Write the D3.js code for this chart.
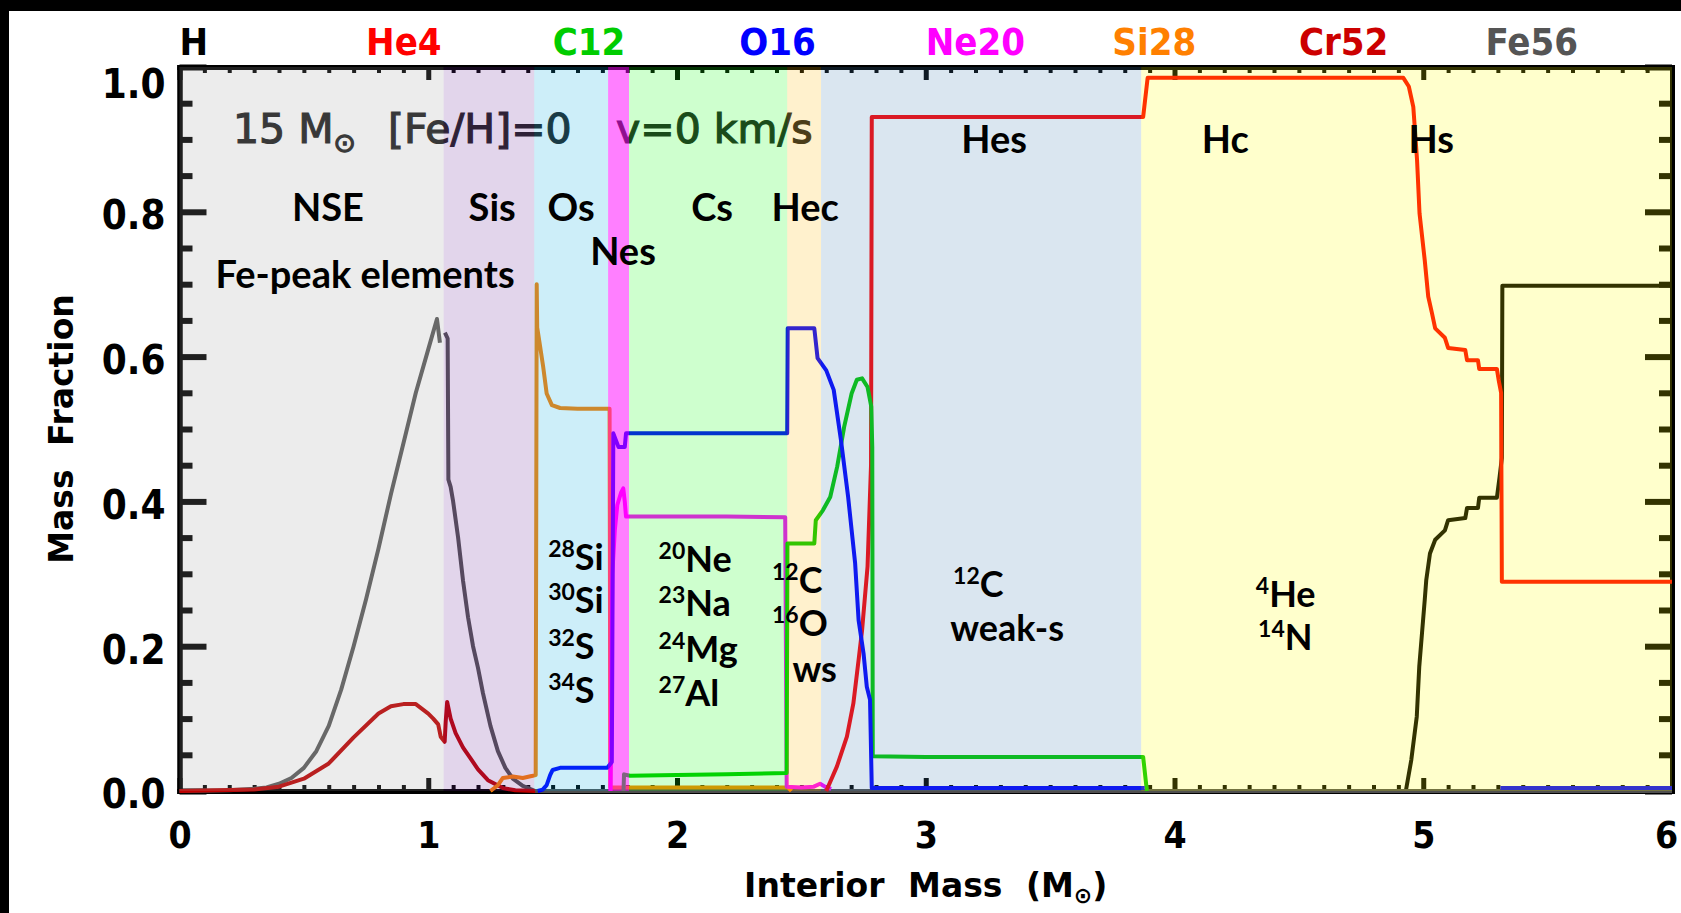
<!DOCTYPE html>
<html>
<head>
<meta charset="utf-8">
<script src="https://cdn.jsdelivr.net/npm/d3@7"></script>
<style>
  html, body { margin: 0; padding: 0; background: #000; }
  svg { display: block; }
  .axis text { font-family: "DejaVu Sans Condensed", "DejaVu Sans", sans-serif; font-weight: bold; fill: #000; }
  .zone_lbl { font-family: Lato, "Open Sans", sans-serif; font-weight: bold; fill: #000; }
</style>
</head>
<body>
<div id="draw_here"></div>
<script>
    // burning zones (interior mass in Msun), drawn as translucent overlays
    zone_names = ["NSE", "Sis", "Os", "Nes", "Cs", "Hec", "Hes", "Hc"]
    zone_edges = [0, 1.062, 1.426, 1.723, 1.807, 2.443, 2.579, 3.866, 6.0]
    zone_fill = ["#a0a0a0", "#6e2d9b", "#05aae1", "#ff00ff", "#0aff0a", "#ffb905", "#4682b4", "#ffff00"]
    zone_alpha = [0.2, 0.2, 0.2, 0.5, 0.2, 0.2, 0.2, 0.2]

    // species legend across the top
    species = ["H", "He4", "C12", "O16", "Ne20", "Si28", "Cr52", "Fe56"]
    species_col = ["#000000", "#ff0000", "#00cc00", "#0000ff", "#ff00ff", "#ff8000", "#cc0000", "#555555"]

    // mass fraction profiles
    H_m = [0, 3.89, 4.93, 4.952, 4.974, 4.984, 4.995, 5.006, 5.012, 5.027, 5.048, 5.087, 5.10, 5.169, 5.176, 5.22, 5.225, 5.296, 5.307, 5.316, 5.318, 6.0]
    H_v = [0, 0, 0, 0.043, 0.103, 0.172, 0.218, 0.264, 0.291, 0.328, 0.347, 0.36, 0.374, 0.377, 0.391, 0.391, 0.405, 0.405, 0.434, 0.46, 0.698, 0.698]

    fepeak_m = [0, 0.2, 0.3, 0.35, 0.4, 0.45, 0.5, 0.55, 0.6, 0.65, 0.7, 0.75, 0.8, 0.85, 0.9, 0.95, 1.0, 1.035, 1.047]
    fepeak_v = [0, 0.001, 0.003, 0.005, 0.01, 0.018, 0.032, 0.055, 0.09, 0.14, 0.2, 0.265, 0.335, 0.41, 0.48, 0.55, 0.61, 0.652, 0.619]

    fe56_m = [1.067, 1.078, 1.081, 1.09, 1.10, 1.12, 1.14, 1.16, 1.18, 1.2, 1.22, 1.25, 1.28, 1.31, 1.34, 1.38, 1.43, 2.0, 3.0, 4.0, 5.0, 6.0]
    fe56_v = [0.633, 0.625, 0.43, 0.42, 0.40, 0.35, 0.29, 0.24, 0.20, 0.17, 0.135, 0.09, 0.055, 0.032, 0.017, 0.007, 0.0, 0, 0, 0, 0, 0]

    cr52_m = [0, 0.3, 0.4, 0.5, 0.6, 0.7, 0.8, 0.85, 0.9, 0.95, 1.0, 1.02, 1.04, 1.05, 1.066, 1.07, 1.076, 1.09, 1.11, 1.14, 1.17, 1.2, 1.24, 1.3, 1.35, 1.43]
    cr52_v = [0, 0.002, 0.006, 0.017, 0.038, 0.074, 0.107, 0.117, 0.12, 0.12, 0.107, 0.10, 0.092, 0.075, 0.068, 0.095, 0.123, 0.1, 0.08, 0.06, 0.045, 0.03, 0.015, 0.004, 0.001, 0]

    si28_m = [1.25, 1.28, 1.30, 1.34, 1.38, 1.42, 1.432, 1.436, 1.438, 1.447, 1.462, 1.476, 1.497, 1.53, 1.6, 1.7, 1.729, 1.732, 1.8, 2.0, 2.2, 2.447, 2.46]
    si28_v = [0, 0.008, 0.018, 0.02, 0.018, 0.021, 0.022, 0.70, 0.64, 0.62, 0.586, 0.549, 0.533, 0.529, 0.528, 0.528, 0.528, 0.005, 0.005, 0.005, 0.005, 0.005, 0]

    ne20_m = [1.733, 1.74, 1.75, 1.76, 1.775, 1.784, 1.79, 1.795, 2.0, 2.2, 2.435, 2.441, 2.5, 2.55, 2.575, 2.6, 2.62]
    ne20_v = [0, 0.30, 0.36, 0.395, 0.412, 0.418, 0.40, 0.379, 0.379, 0.379, 0.378, 0.006, 0.005, 0.006, 0.01, 0.005, 0.003]

    he4_m = [2.60, 2.643, 2.683, 2.709, 2.73, 2.744, 2.766, 2.78, 2.783, 3.0, 3.5, 3.874, 3.892, 4.5, 4.92, 4.942, 4.96, 4.975, 4.985, 5.006, 5.02, 5.035, 5.048, 5.087, 5.10, 5.169, 5.176, 5.22, 5.225, 5.296, 5.303, 5.313, 5.316, 6.0]
    he4_v = [0, 0.034, 0.075, 0.121, 0.181, 0.222, 0.31, 0.45, 0.931, 0.931, 0.931, 0.931, 0.985, 0.985, 0.985, 0.973, 0.945, 0.872, 0.798, 0.733, 0.683, 0.66, 0.639, 0.626, 0.612, 0.609, 0.595, 0.595, 0.583, 0.583, 0.568, 0.55, 0.289, 0.289]

    c12_m = [1.785, 1.787, 1.811, 2.0, 2.2, 2.441, 2.444, 2.552, 2.558, 2.587, 2.616, 2.644, 2.672, 2.702, 2.723, 2.744, 2.766, 2.781, 2.785, 2.787, 3.0, 3.5, 3.874, 3.889]
    c12_v = [0, 0.023, 0.021, 0.022, 0.023, 0.025, 0.342, 0.342, 0.374, 0.388, 0.406, 0.448, 0.503, 0.549, 0.568, 0.570, 0.558, 0.531, 0.475, 0.048, 0.047, 0.047, 0.047, 0]

    o16_m = [1.44, 1.46, 1.476, 1.49, 1.50, 1.53, 1.72, 1.738, 1.744, 1.765, 1.79, 1.795, 2.0, 2.2, 2.443, 2.445, 2.552, 2.565, 2.6, 2.63, 2.659, 2.688, 2.716, 2.73, 2.75, 2.763, 2.776, 2.783, 3.0, 3.5, 3.88, null, 5.31, 6.0]
    o16_v = [0, 0.002, 0.008, 0.022, 0.029, 0.032, 0.032, 0.04, 0.494, 0.475, 0.475, 0.494, 0.494, 0.494, 0.494, 0.639, 0.639, 0.598, 0.581, 0.554, 0.485, 0.406, 0.315, 0.236, 0.19, 0.144, 0.126, 0.004, 0.004, 0.004, 0.004, null, 0.004, 0.004]

    series = [
        {m: H_m, v: H_v, col: "#000000"},
        {m: fepeak_m, v: fepeak_v, col: "#5a5a5a"},
        {m: fe56_m, v: fe56_v, col: "#505050"},
        {m: cr52_m, v: cr52_v, col: "#c00000"},
        {m: si28_m, v: si28_v, col: "#ff8000"},
        {m: ne20_m, v: ne20_v, col: "#ff00ff"},
        {m: he4_m, v: he4_v, col: "#ff0000"},
        {m: c12_m, v: c12_v, col: "#00c800"},
        {m: o16_m, v: o16_v, col: "#0000ff"}
    ]

    // Setup chart
    canvas = ({width: 1681, height: 913})
    x = d3.scaleLinear().domain([0, 6]).range([179.5, 1672])
    y = d3.scaleLinear().domain([0, 1]).range([791, 67])

    var svg = d3.select("div#draw_here").append("svg")
        .attr("width", canvas.width)
        .attr("height", canvas.height)
        .attr("viewBox", [0, 0, canvas.width, canvas.height]);

    svg.append("rect").attr("width", canvas.width).attr("height", canvas.height).attr("fill", "#000")
    svg.append("rect").attr("x", 9).attr("y", 11).attr("width", canvas.width).attr("height", canvas.height).attr("fill", "#fff")

    // axes, ticks point inward on all four sides
    x_major = d3.range(0, 7, 1)
    x_minor = d3.range(0, 61).map(d => d / 10).filter(d => d % 1 != 0)
    y_major = [0, 0.2, 0.4, 0.6, 0.8, 1.0]
    y_minor = d3.range(0, 21).map(d => d / 20).filter(d => Math.round(d * 20) % 4 != 0)

    function styleAxis(g, w) {
        g.selectAll(".domain").attr("stroke", "#000").attr("stroke-width", 5).attr("stroke-linecap", "square")
        g.selectAll(".tick line").attr("stroke", "#000").attr("stroke-width", w)
    }

    var axes = svg.append("g")
    axes.append("g").attr("class", "axis").attr("transform", `translate(0,${y(0)})`)
        .call(d3.axisBottom(x).tickValues(x_major).tickSize(-13).tickSizeOuter(0).tickPadding(31).tickFormat(d3.format("d")))
        .call(g => g.selectAll("text").attr("font-size", 37).attr("dx", d => d == 6 ? -6 : 0))
        .call(g => styleAxis(g, 5))
    axes.append("g").attr("transform", `translate(0,${y(0)})`)
        .call(d3.axisBottom(x).tickValues(x_minor).tickSize(-6).tickSizeOuter(0).tickFormat(""))
        .call(g => styleAxis(g, 4))
    axes.append("g").attr("transform", `translate(0,${y(1)})`)
        .call(d3.axisTop(x).tickValues(x_major).tickSize(-13).tickSizeOuter(0).tickFormat(""))
        .call(g => styleAxis(g, 5))
    axes.append("g").attr("transform", `translate(0,${y(1)})`)
        .call(d3.axisTop(x).tickValues(x_minor).tickSize(-6).tickSizeOuter(0).tickFormat(""))
        .call(g => styleAxis(g, 4))
    axes.append("g").attr("class", "axis").attr("transform", `translate(${x(0)},0)`)
        .call(d3.axisLeft(y).tickValues(y_major).tickSize(-27).tickSizeOuter(0).tickPadding(14).tickFormat(d3.format(".1f")))
        .call(g => g.selectAll("text").attr("font-size", 40).attr("dy", d => d == 1 ? "0.75em" : "0.42em"))
        .call(g => styleAxis(g, 6))
    axes.append("g").attr("transform", `translate(${x(0)},0)`)
        .call(d3.axisLeft(y).tickValues(y_minor).tickSize(-13).tickSizeOuter(0).tickFormat(""))
        .call(g => styleAxis(g, 6))
    axes.append("g").attr("transform", `translate(${x(6)},0)`)
        .call(d3.axisRight(y).tickValues(y_major).tickSize(-27).tickSizeOuter(0).tickFormat(""))
        .call(g => styleAxis(g, 6))
    axes.append("g").attr("transform", `translate(${x(6)},0)`)
        .call(d3.axisRight(y).tickValues(y_minor).tickSize(-13).tickSizeOuter(0).tickFormat(""))
        .call(g => styleAxis(g, 6))

    // profiles
    line = d3.line()
        .defined(d => d[0] != null && d[1] != null)
        .x(d => x(d[0]))
        .y(d => y(d[1]))

    series.forEach(s => {
        svg.append("path")
            .attr("fill", "none")
            .attr("stroke", s.col)
            .attr("stroke-width", 4)
            .attr("stroke-linejoin", "round")
            .attr("d", line(d3.zip(s.m, s.v)))
    })

    // model annotation (sits under the zone overlays)
    var note = svg.append("text")
        .attr("x", x(0.215)).attr("y", y(0.895))
        .attr("font-family", "'DejaVu Sans', sans-serif").attr("font-size", 41)
        .attr("fill", "#1e1e1e").attr("stroke", "#1e1e1e").attr("stroke-width", 1.2)
    note.append("tspan").text("15 M")
    note.append("tspan").attr("font-size", 27).attr("dy", 9).text("⊙")
    note.append("tspan").attr("x", x(0.838)).attr("dy", -9).text("[Fe/H]=0")
    note.append("tspan").attr("x", x(1.755)).text("v=0 km/s")

    // zone overlays
    zone_names.forEach((z, i) => {
        svg.append("rect")
            .attr("x", x(zone_edges[i]))
            .attr("y", y(1))
            .attr("width", x(zone_edges[i + 1]) - x(zone_edges[i]))
            .attr("height", y(0) - y(1))
            .attr("fill", zone_fill[i])
            .attr("fill-opacity", zone_alpha[i])
    })

    // zone labels: [text, mass, fraction] (centred)
    zone_lbls = [
        ["NSE", 0.597, 0.787], ["Sis", 1.257, 0.787], ["Os", 1.574, 0.787], ["Cs", 2.141, 0.787],
        ["Hec", 2.515, 0.787], ["Nes", 1.783, 0.7265], ["Fe-peak elements", 0.746, 0.695],
        ["Hes", 3.275, 0.881], ["Hc", 4.204, 0.881], ["Hs", 5.032, 0.881]
    ]
    zone_lbls.forEach(d => {
        svg.append("text").attr("class", "zone_lbl")
            .attr("x", x(d[1])).attr("y", y(d[2]))
            .attr("text-anchor", "middle").attr("font-size", 38)
            .text(d[0])
    })

    // main isotopes per zone: [mass number, element, mass, fraction] (left aligned)
    iso_lbls = [
        ["28", "Si", 1.482, 0.305], ["30", "Si", 1.482, 0.246], ["32", "S", 1.482, 0.182], ["34", "S", 1.482, 0.1215],
        ["20", "Ne", 1.926, 0.3025], ["23", "Na", 1.926, 0.2417], ["24", "Mg", 1.926, 0.178], ["27", "Al", 1.926, 0.1174],
        ["12", "C", 2.382, 0.2735], ["16", "O", 2.382, 0.2141], ["", "ws", 2.464, 0.1506],
        ["12", "C", 3.110, 0.268], ["", "weak-s", 3.098, 0.207],
        ["4", "He", 4.327, 0.254], ["14", "N", 4.336, 0.1948]
    ]
    iso_lbls.forEach(d => {
        var t = svg.append("text").attr("class", "zone_lbl")
            .attr("x", x(d[2])).attr("y", y(d[3])).attr("font-size", 36)
        if (d[0] != "") t.append("tspan").attr("font-size", 23).attr("dy", -13).text(d[0])
        t.append("tspan").attr("dy", d[0] != "" ? 13 : 0).text(d[1])
    })

    // species legend
    species.forEach((s, i) => {
        svg.append("text")
            .attr("x", x(i * 0.75)).attr("y", 55)
            .attr("font-family", "'DejaVu Sans Condensed', 'DejaVu Sans', sans-serif")
            .attr("font-weight", "bold").attr("font-size", 38)
            .attr("fill", species_col[i])
            .text(s)
    })

    // axis titles
    var xt = svg.append("text")
        .attr("x", (x(0) + x(6)) / 2).attr("y", 897)
        .attr("text-anchor", "middle")
        .attr("font-family", "'DejaVu Sans', sans-serif").attr("font-weight", "bold").attr("font-size", 33)
        .style("word-spacing", "12px")
    xt.append("tspan").text("Interior Mass (M")
    xt.append("tspan").attr("font-size", 22).attr("dy", 6).text("⊙")
    xt.append("tspan").attr("dy", -6).text(")")

    svg.append("text")
        .attr("transform", `translate(73,${(y(0) + y(1)) / 2}) rotate(-90)`)
        .attr("text-anchor", "middle")
        .attr("font-family", "'DejaVu Sans', sans-serif").attr("font-weight", "bold").attr("font-size", 33)
        .style("word-spacing", "12px")
        .text("Mass Fraction")
</script>
</body>
</html>
